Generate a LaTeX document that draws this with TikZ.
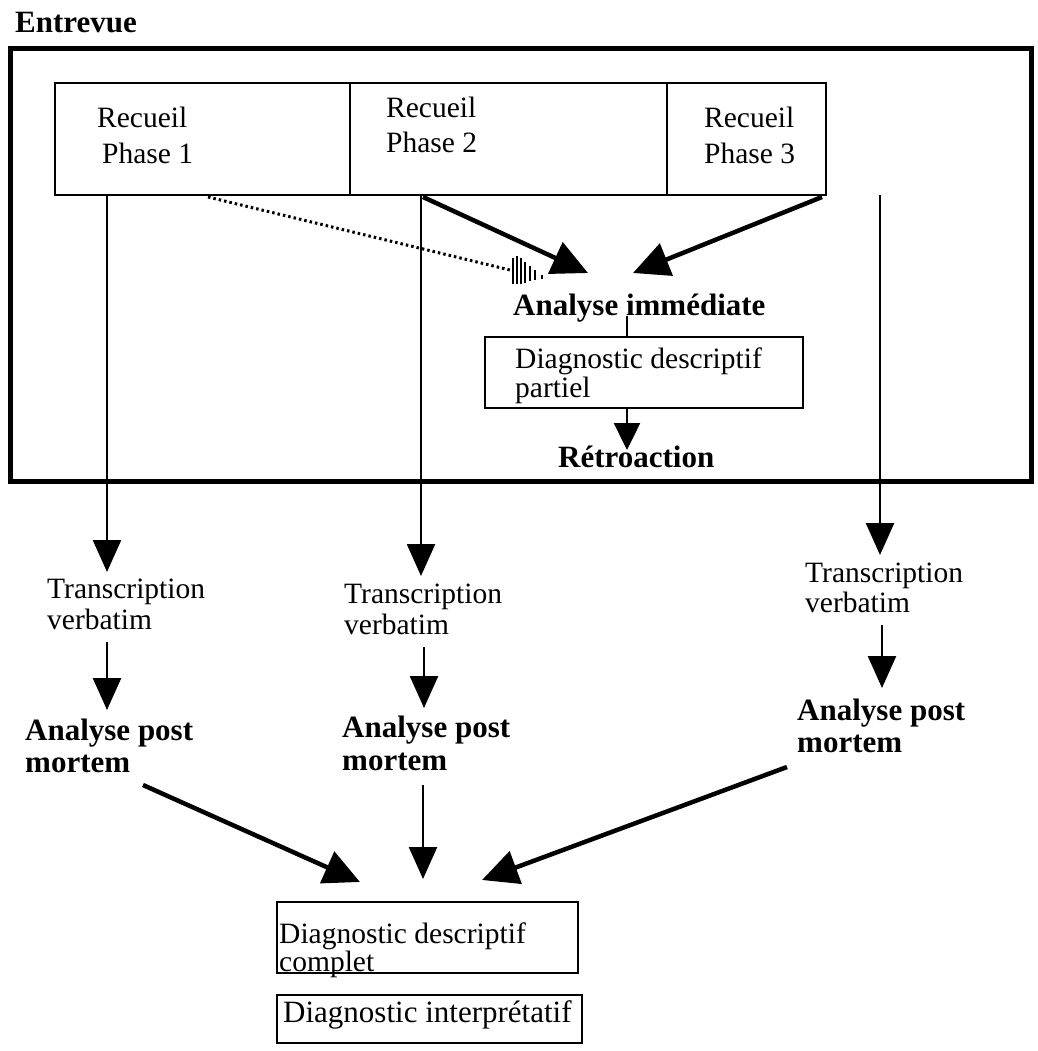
\documentclass[tikz,border=0pt]{standalone}
\usepackage{fontspec}
\setmainfont{Liberation Serif}
\usetikzlibrary{arrows.meta}
\begin{document}
\begin{tikzpicture}[x=1pt,y=-1pt,
  txt/.style={font=\fontsize{29.5}{31}\selectfont, align=left, inner sep=0pt, anchor=north west},
  btxt/.style={font=\fontsize{31}{32}\selectfont\bfseries, align=left, inner sep=0pt, anchor=north west},
  boxed/.style={draw, line width=2.5pt},
  bigarrow/.style={line width=4.5pt, -{Triangle[length=36pt,width=34pt]}},
  midarrow/.style={line width=2.5pt, -{Triangle[length=32pt,width=28pt]}},
  smallarrow/.style={line width=2.5pt, -{Triangle[length=27pt,width=26pt]}},
  thin/.style={line width=2.5pt},
  dots/.style={line width=3pt, dash pattern=on 2.5pt off 3pt}
]
\useasboundingbox (0,0) rectangle (1037,1051);

% title and frame of the interview
\node[btxt] (entrevue) at (15,12) {Entrevue};
\draw[line width=5pt] (10,49) rectangle (1031,481);

% collection phases
\draw[boxed] (55,83) rectangle (826,195);
\draw[thin] (350,83) -- (350,195);
\draw[thin] (667,83) -- (667,195);
\node[txt, font=\fontsize{29.5}{36}\selectfont] (p1) at (97,107) {Recueil\\\hspace*{5pt}Phase 1};
\node[txt, font=\fontsize{29.5}{35}\selectfont] (p2) at (386,97) {Recueil\\Phase 2};
\node[txt, font=\fontsize{29.5}{36}\selectfont] (p3) at (704,107) {Recueil\\Phase 3};

% immediate analysis
\node[btxt] (ai) at (513,294) {Analyse immédiate};
\draw[boxed] (485,337) rectangle (803,408);
\node[txt, font=\fontsize{29.5}{29}\selectfont] (dp) at (515,348) {Diagnostic descriptif\\partiel};
\node[btxt] (retro) at (558,446) {Rétroaction};

% transcriptions
\node[txt] (t1) at (47,579) {Transcription\\verbatim};
\node[txt] (t2) at (344,584) {Transcription\\verbatim};
\node[txt, font=\fontsize{29.5}{30}\selectfont] (t3) at (805,563) {Transcription\\verbatim};

% post mortem analyses
\node[btxt] (a1) at (25,719) {Analyse post\\mortem};
\node[btxt, font=\fontsize{31}{33}\selectfont\bfseries] (a2) at (342,716) {Analyse post\\mortem};
\node[btxt] (a3) at (797,699) {Analyse post\\mortem};

% final diagnoses
\draw[boxed] (277,902) rectangle (578,973);
\node[txt, font=\fontsize{29.5}{24}\selectfont] (dc) at (279,923) {Diagnostic descriptif\\complet};
\draw[boxed] (277,995) rectangle (582,1043);
\node[txt, font=\fontsize{31}{32}\selectfont] (di) at (283,1000) {Diagnostic interprétatif};

% connector end points
\coordinate (s1) at (107,195);
\coordinate (s2) at (421,195);
\coordinate (s3) at (880,195);
\coordinate (e1) at (107,572);
\coordinate (e2) at (421,576);
\coordinate (e3) at (880,555);
\coordinate (d0) at (208,197);
\coordinate (d1) at (510,270);
\coordinate (b2) at (423,197);
\coordinate (b3) at (822,197);
\coordinate (ti) at (588,273);
\coordinate (tj) at (633,273);
\coordinate (ai0) at (627,316);
\coordinate (ai1) at (627,337);
\coordinate (r0) at (627,408);
\coordinate (r1) at (627,450);
\coordinate (u1) at (107,642);
\coordinate (v1) at (107,710);
\coordinate (u2) at (424,647);
\coordinate (v2) at (424,708);
\coordinate (u3) at (882,625);
\coordinate (v3) at (882,688);
\coordinate (m1) at (143,785);
\coordinate (m2) at (423,785);
\coordinate (m3) at (787,767);
\coordinate (n1) at (360,882);
\coordinate (n2) at (423,879);
\coordinate (n3) at (482,880);

% vertical flows to transcription
\draw[midarrow] (s1) -- (e1);
\draw[midarrow] (s2) -- (e2);
\draw[midarrow] (s3) -- (e3);

% flows to immediate analysis
\draw[dots] (d0) -- (d1);
\foreach \x/\a/\b in {513/258/284,517/256/284,521/258/284,525/262/283,530/266/281,535/270/280,542/275/279}
  \draw[line width=2pt] (\x,\a) -- (\x,\b);
\draw[bigarrow] (b2) -- (ti);
\draw[bigarrow] (b3) -- (tj);
\draw[thin] (ai0) -- (ai1);
\draw[smallarrow] (r0) -- (r1);

% transcription to analysis
\draw[midarrow] (u1) -- (v1);
\draw[midarrow] (u2) -- (v2);
\draw[midarrow] (u3) -- (v3);

% analyses to the complete diagnosis
\draw[bigarrow] (m1) -- (n1);
\draw[midarrow] (m2) -- (n2);
\draw[bigarrow] (m3) -- (n3);
\end{tikzpicture}
\end{document}
